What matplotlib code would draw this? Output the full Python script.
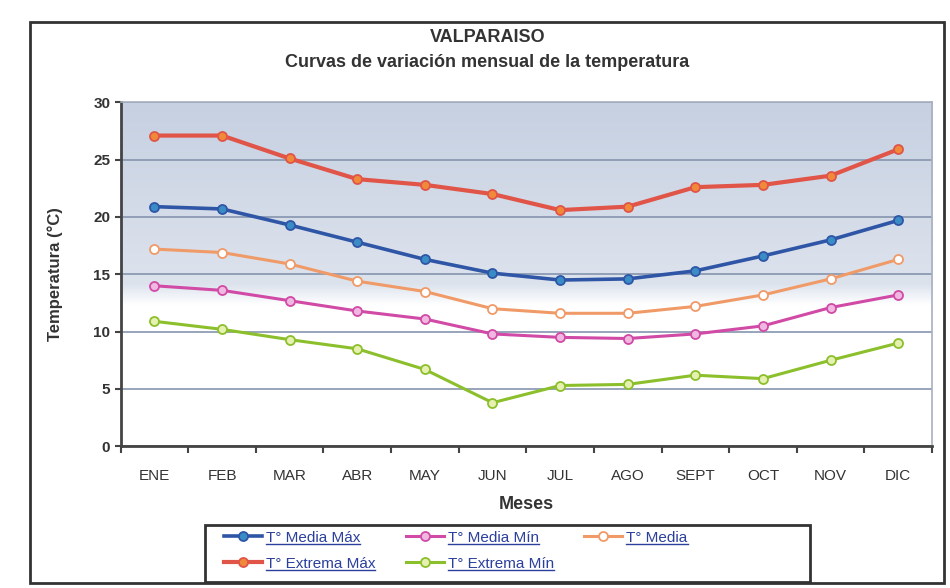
import numpy as np
import matplotlib
matplotlib.use("Agg")
import matplotlib.pyplot as plt
from matplotlib.patches import Rectangle
from matplotlib.colors import LinearSegmentedColormap
from matplotlib.lines import Line2D

plt.rcParams['font.family'] = ['Liberation Sans Narrow', 'Liberation Sans', 'DejaVu Sans']

# monthly data
meses = ["ENE", "FEB", "MAR", "ABR", "MAY", "JUN", "JUL", "AGO", "SEPT", "OCT", "NOV", "DIC"]
media_max = [20.9, 20.7, 19.3, 17.8, 16.3, 15.1, 14.5, 14.6, 15.3, 16.6, 18.0, 19.7]
media_min = [14.0, 13.6, 12.7, 11.8, 11.1, 9.8, 9.5, 9.4, 9.8, 10.5, 12.1, 13.2]
media = [17.2, 16.9, 15.9, 14.4, 13.5, 12.0, 11.6, 11.6, 12.2, 13.2, 14.6, 16.3]
extrema_max = [27.1, 27.1, 25.1, 23.3, 22.8, 22.0, 20.6, 20.9, 22.6, 22.8, 23.6, 25.9]
extrema_min = [10.9, 10.2, 9.3, 8.5, 6.7, 3.8, 5.3, 5.4, 6.2, 5.9, 7.5, 9.0]

x = np.arange(len(meses))

fig = plt.figure(figsize=(9.5, 5.88), dpi=100)
ax = fig.add_axes([0.127, 0.241, 0.854, 0.585])

# background gradient (blue-grey at top, white at bottom)
cmap = LinearSegmentedColormap.from_list("bg", [(0, "white"), (0.41, "white"), (0.47, "#dde3ed"),
                                                (1, "#c6d0e1")])
grad = np.linspace(0, 1, 256).reshape(-1, 1)
ax.imshow(grad, aspect="auto", cmap=cmap, origin="lower", extent=[-0.5, 11.5, 0, 30], zorder=0)

# series
ax.plot(x, media_max, color="#2f56a6", lw=2.6, marker="o", ms=6.5, mfc="#3a8cc6", mec="#2f56a6", mew=1.3,
        label="T° Media Máx", zorder=4)
ax.plot(x, media_min, color="#d04aa6", lw=2.2, marker="o", ms=6.5, mfc="#f0b8e0", mec="#d04aa6", mew=1.3,
        label="T° Media Mín", zorder=4)
ax.plot(x, media, color="#f09a68", lw=2.2, marker="o", ms=6.5, mfc="white", mec="#f09a68", mew=1.3,
        label="T° Media", zorder=4)
ax.plot(x, extrema_max, color="#e05548", lw=3, marker="o", ms=6.5, mfc="#f08a3a", mec="#e05548", mew=1.3,
        label="T° Extrema Máx", zorder=4)
ax.plot(x, extrema_min, color="#8cbf2c", lw=2.2, marker="o", ms=6.5, mfc="#e6f0b0", mec="#8cbf2c", mew=1.3,
        label="T° Extrema Mín", zorder=4)

ax.set_xlim(-0.5, 11.5)
ax.set_ylim(0, 30)
ax.set_yticks(np.arange(0, 31, 5))
ax.yaxis.grid(True, color="#8595ae", lw=1.2)
ax.set_axisbelow(True)

# category ticks between months, labels at centers
ax.set_xticks(np.arange(-0.5, 12, 1))
ax.set_xticklabels([])
ax.set_xticks(x, minor=True)
ax.set_xticklabels(meses, minor=True, fontsize=11, color="#333333")
ax.tick_params(axis="x", which="minor", length=0, pad=16)
ax.tick_params(axis="x", which="major", length=5, width=1.5, color="#444444", direction="out")
ax.tick_params(axis="y", length=4, width=1.5, color="#444444", labelsize=11, labelcolor="#333333")
for lbl in ax.get_yticklabels():
    lbl.set_fontweight("bold")

for s in ["left", "bottom"]:
    ax.spines[s].set_color("#444444")
    ax.spines[s].set_linewidth(2)
for s in ["top", "right"]:
    ax.spines[s].set_color("#a8b0c0")
    ax.spines[s].set_linewidth(1.2)

ax.set_ylabel("Temperatura (°C)", fontsize=12, fontweight="bold", color="#333333", labelpad=22)
ax.set_xlabel("Meses", fontsize=13, fontweight="bold", color="#333333", labelpad=10)

fig.text(0.513, 0.937, "VALPARAISO", ha="center", va="center", fontsize=13, fontweight="bold", color="#333333")
fig.text(0.513, 0.894, "Curvas de variación mensual de la temperatura", ha="center", va="center",
         fontsize=13, fontweight="bold", color="#333333")

# outer frame
fig.patches.append(Rectangle((0.032, 0.008), 0.962, 0.955, transform=fig.transFigure,
                             fill=False, ec="#333333", lw=2))

# legend box drawn by hand, legend entries without frame
fig.patches.append(Rectangle((205 / 950, 1 - 582 / 588), 605 / 950, 57 / 588, transform=fig.transFigure,
                             fill=False, ec="#333333", lw=2))
handles, labels = ax.get_legend_handles_labels()
order = [0, 3, 1, 4, 2]
leg = fig.legend([handles[i] for i in order], [labels[i] for i in order], ncol=3,
                 loc="upper left", bbox_to_anchor=(222 / 950, 1 - 529 / 588), frameon=False,
                 fontsize=11, handlelength=2.5, handletextpad=0.25, columnspacing=2.0,
                 labelspacing=0.8, borderpad=0.1, borderaxespad=0)
for t in leg.get_texts():
    t.set_color("#2b3f9c")

# underline legend labels
fig.canvas.draw()
inv = fig.transFigure.inverted()
for t in leg.get_texts():
    bb = t.get_window_extent()
    (x0, y0), (x1, _) = inv.transform([[bb.x0, bb.y0 + 1], [bb.x1, bb.y0]])
    fig.add_artist(Line2D([x0, x1], [y0, y0], transform=fig.transFigure, color="#2b3f9c", lw=1))

fig.savefig("out.png", dpi=100)
